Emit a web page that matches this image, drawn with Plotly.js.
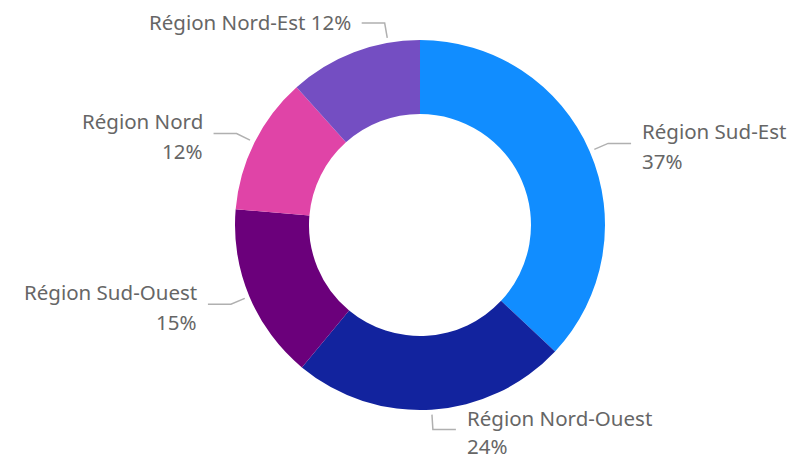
<!DOCTYPE html>
<html>
<head>
<meta charset="utf-8">
<script src="https://cdn.plot.ly/plotly-3.0.1.min.js"></script>
<style>html,body{margin:0;padding:0;background:#fff;}#chart{width:793px;height:459px;}</style>
</head>
<body>
<div id="chart"></div>
<script>
// Data
const categories = ['Région Sud-Est', 'Région Nord-Ouest', 'Région Sud-Ouest', 'Région Nord', 'Région Nord-Est'];
const values = [36.9, 24.0, 15.3, 12.0, 11.6];
const colors = ['#118DFF', '#12239E', '#6B007B', '#E044A7', '#744EC2'];
// label layout styles (not data)
const labelOneLine = [false, false, false, false, true];
const labelAngleShift = [0, 0, 0, 0, 11];

const W = 793, H = 459;
const cx = 420, cy = 225, R = 185;
const total = values.reduce((a, b) => a + b, 0);

const toPX = x => x / W;
const toPY = y => 1 - y / H;

const shapes = [];
const annotations = [];
const font = {family: 'Noto Sans, Open Sans, sans-serif', size: 20.5, color: '#666666'};
let cum = 0;
values.forEach((v, i) => {
  const pct = Math.round(v / total * 100) + '%';
  const mid = (cum + v / 2) / total * 360 + labelAngleShift[i];
  cum += v;
  const a = mid * Math.PI / 180;
  const dx = Math.sin(a), dy = -Math.cos(a);
  const x1 = cx + (R + 5) * dx, y1 = cy + (R + 5) * dy;
  const x2 = cx + (R + 20) * dx, y2 = cy + (R + 20) * dy;
  const side = dx >= 0 ? 1 : -1;
  const x3 = x2 + side * 23, y3 = y2;
  shapes.push({
    type: 'path', xref: 'paper', yref: 'paper',
    path: `M ${toPX(x1)} ${toPY(y1)} L ${toPX(x2)} ${toPY(y2)} L ${toPX(x3)} ${toPY(y3)}`,
    line: {color: '#B0B0B0', width: 1.5}
  });
  const tx = x3 + side * 9;
  const anchor = side > 0 ? 'left' : 'right';
  if (labelOneLine[i]) {
    annotations.push({xref: 'paper', yref: 'paper', x: toPX(tx), y: toPY(y3 - 1), text: categories[i] + ' ' + pct,
      showarrow: false, xanchor: anchor, yanchor: 'middle', font: font});
  } else {
    annotations.push({xref: 'paper', yref: 'paper', x: toPX(tx), y: toPY(y3 - 12), text: categories[i],
      showarrow: false, xanchor: anchor, yanchor: 'middle', font: font});
    annotations.push({xref: 'paper', yref: 'paper', x: toPX(tx), y: toPY(Math.min(y3 + 18, H - 13)), text: pct,
      showarrow: false, xanchor: anchor, yanchor: 'middle', font: font});
  }
});

const trace = {
  type: 'pie',
  labels: categories,
  values: values,
  sort: false,
  direction: 'clockwise',
  rotation: 0,
  hole: 0.6,
  textinfo: 'none',
  marker: {colors: colors, line: {width: 0}},
  domain: {x: [(cx - R) / W, (cx + R) / W], y: [1 - (cy + R) / H, 1 - (cy - R) / H]},
  showlegend: false
};

Plotly.newPlot('chart', [trace], {
  width: W, height: H,
  margin: {l: 0, r: 0, t: 0, b: 0, pad: 0},
  paper_bgcolor: '#fff',
  showlegend: false,
  shapes: shapes,
  annotations: annotations
}, {displayModeBar: false, staticPlot: true});
</script>
</body>
</html>
